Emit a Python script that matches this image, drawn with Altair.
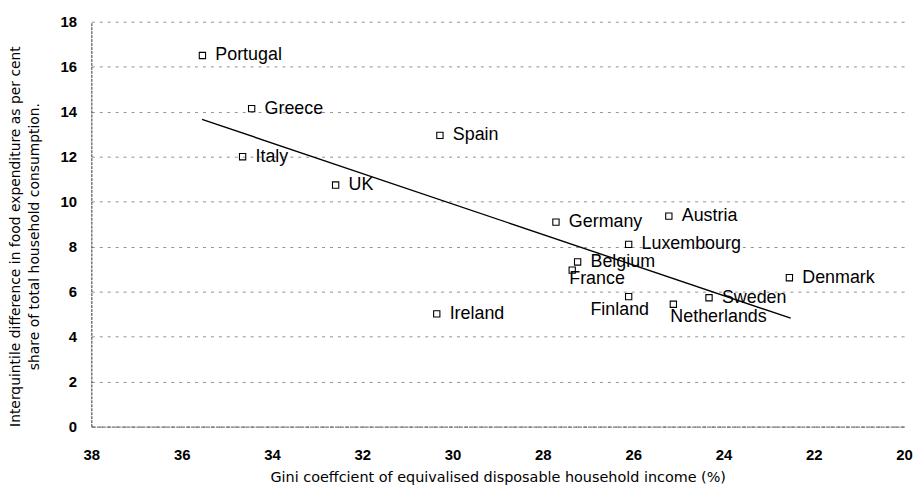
import altair as alt
import pandas as pd

# ---- data ----
countries = ["Portugal", "Greece", "Italy", "UK", "Spain", "Ireland", "Germany",
             "Austria", "Luxembourg", "Belgium", "France", "Denmark", "Finland",
             "Netherlands", "Sweden"]
gini = [35.54, 34.45, 34.65, 32.59, 30.28, 30.35, 27.71,
        25.21, 26.10, 27.23, 27.35, 22.54, 26.10,
        25.11, 24.32]
food_gap = [16.50, 14.14, 12.00, 10.74, 12.95, 5.01, 9.09,
            9.36, 8.10, 7.32, 6.96, 6.62, 5.78,
            5.44, 5.73]
label_place = ["right", "right", "right", "right", "right", "right", "right",
               "right", "right", "right", "belowA", "right", "belowC",
               "belowB", "right"]

trend_gini = [35.55, 22.51]
trend_gap = [13.66, 4.82]

x_ticks = list(range(20, 39, 2))
y_ticks = list(range(0, 19, 2))

df = pd.DataFrame({"country": countries, "gini": gini, "gap": food_gap,
                   "place": label_place})
trend = pd.DataFrame({"gini": trend_gini, "gap": trend_gap})

FONT = "Liberation Sans"
TFONT = "DejaVu Sans"

x_enc = alt.X("gini:Q",
              scale=alt.Scale(domain=[20, 38], reverse=True, nice=False, zero=False),
              axis=alt.Axis(values=x_ticks, grid=False, ticks=False,
                            domainColor="#555", domainWidth=1,
                            domainDash=[4, 1], labelFlush=False,
                            labelFont=FONT, labelFontSize=15, labelFontWeight="bold",
                            labelColor="#000", labelPadding=21,
                            title="Gini coeffcient of equivalised disposable household income (%)",
                            titleFont=TFONT, titleFontSize=14.5, titleFontWeight="normal",
                            titleColor="#000", titleBaseline="alphabetic", titleY=55))
y_enc = alt.Y("gap:Q",
              scale=alt.Scale(domain=[0, 18], nice=False, zero=True),
              axis=alt.Axis(values=y_ticks, grid=True, gridColor="#777",
                            gridDash=[3, 5], gridWidth=0.8, ticks=False,
                            domainColor="#333", domainWidth=1, domainDash=[3, 1],
                            labelFont=FONT, labelFontSize=15, labelFontWeight="bold",
                            labelColor="#000", labelPadding=15, labelFlush=False,
                            title=["Interquintile difference in food expenditure as  per cent",
                                   "share of total household consumption."],
                            titleFont=TFONT, titleFontSize=14, titleFontWeight="normal",
                            titleColor="#000", titleBaseline="alphabetic",
                            titleLineHeight=19, titleX=-72, titleY=216))

base = alt.Chart(df)

points = base.mark_point(shape="square", filled=False, size=40, color="black",
                         strokeWidth=1.1, opacity=1).encode(x=x_enc, y=y_enc)

txt_kw = dict(font=FONT, fontSize=18, color="black", baseline="middle")
lab_right = base.transform_filter(alt.datum.place == "right").mark_text(
    align="left", dx=13, **txt_kw).encode(x="gini:Q", y="gap:Q", text="country:N")
lab_a = base.transform_filter(alt.datum.place == "belowA").mark_text(
    align="left", dx=-3, dy=9, **txt_kw).encode(x="gini:Q", y="gap:Q", text="country:N")
lab_b = base.transform_filter(alt.datum.place == "belowB").mark_text(
    align="left", dx=-3, dy=13, **txt_kw).encode(x="gini:Q", y="gap:Q", text="country:N")
lab_c = base.transform_filter(alt.datum.place == "belowC").mark_text(
    align="center", dx=-9, dy=14, **txt_kw).encode(x="gini:Q", y="gap:Q", text="country:N")

line = alt.Chart(trend).mark_line(color="black", strokeWidth=1.4).encode(
    x="gini:Q", y="gap:Q")

chart = alt.layer(points, line, lab_right, lab_a, lab_b, lab_c).properties(
    width=819, height=408,
    autosize=alt.AutoSizeParams(type="none"),
    padding={"left": 84, "top": 12, "right": 9, "bottom": 58},
    background="white",
).configure_view(stroke=None)

chart.save("out.html", embed_options={"renderer": "svg", "actions": False})
